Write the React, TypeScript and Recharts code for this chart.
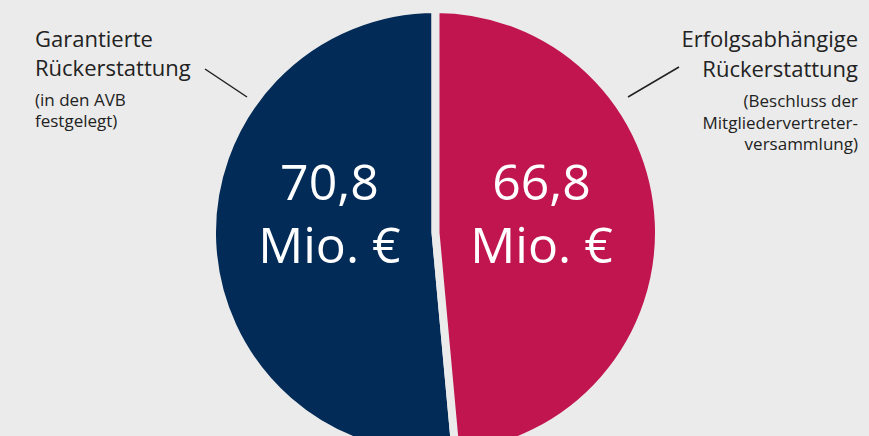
import { Pie, PieChart, Cell } from "recharts";

const names = ["Garantierte Rückerstattung", "Erfolgsabhängige Rückerstattung"];
const values = [70.8, 66.8];
const colors = ["#022b57", "#c11550"];

const titleLines = [
  ["Garantierte", "Rückerstattung"],
  ["Erfolgsabhängige", "Rückerstattung"],
];
const noteLines = [
  ["(in den AVB", "festgelegt)"],
  ["(Beschluss der", "Mitgliedervertreter-", "versammlung)"],
];

const BG = "#ebebeb";
const FONT = "'Open Sans', 'Noto Sans', sans-serif";
const RAD = Math.PI / 180;

const data = names.map((name, i) => ({ name, value: values[i] }));

const fmt = (v: number) => v.toFixed(1).replace(".", ",");

function renderValue(props: any) {
  const { cx, cy, midAngle, outerRadius, value } = props;
  const x = cx + outerRadius * 0.475 * Math.cos(-midAngle * RAD);
  return (
    <text
      x={x}
      y={cy - 33}
      fill="#ffffff"
      textAnchor="middle"
      fontFamily={FONT}
      fontSize={50}
    >
      <tspan x={x}>{fmt(value)}</tspan>
      <tspan x={x} dy={63}>
        Mio. €
      </tspan>
    </text>
  );
}

export default function App() {
  return (
    <div
      style={{
        position: "absolute",
        left: 0,
        top: 0,
        width: 869,
        height: 436,
        background: BG,
        overflow: "hidden",
      }}
    >
      <PieChart width={869} height={436} margin={{ top: 0, right: 0, bottom: 0, left: 0 }}>
        <Pie
          data={data}
          dataKey="value"
          nameKey="name"
          cx={435.5}
          cy={232.5}
          outerRadius={223.5}
          startAngle={90}
          endAngle={450}
          stroke={BG}
          strokeWidth={8}
          label={renderValue}
          labelLine={false}
          isAnimationActive={false}
        >
          {data.map((d, i) => (
            <Cell key={d.name} fill={colors[i]} />
          ))}
        </Pie>

        <g fontFamily={FONT} fill="#222222">
          <text x={35} y={47} fontSize={22}>
            <tspan x={35}>{titleLines[0][0]}</tspan>
            <tspan x={35} dy={28.5}>{titleLines[0][1]}</tspan>
          </text>
          <text x={35} y={106} fontSize={17}>
            {noteLines[0].map((l, i) => (
              <tspan key={l} x={35} dy={i === 0 ? 0 : 21}>
                {l}
              </tspan>
            ))}
          </text>
          <text x={858} y={47} fontSize={22} textAnchor="end">
            <tspan x={858}>{titleLines[1][0]}</tspan>
            <tspan x={858} dy={30}>{titleLines[1][1]}</tspan>
          </text>
          <text x={858} y={107} fontSize={17} textAnchor="end">
            {noteLines[1].map((l, i) => (
              <tspan key={l} x={858} dy={i === 0 ? 0 : 21.5}>
                {l}
              </tspan>
            ))}
          </text>
        </g>
        <line x1={205} y1={69} x2={247} y2={97} stroke="#222222" strokeWidth={1.5} />
        <line x1={679} y1={67} x2={628} y2={97} stroke="#222222" strokeWidth={1.5} />
      </PieChart>
    </div>
  );
}
